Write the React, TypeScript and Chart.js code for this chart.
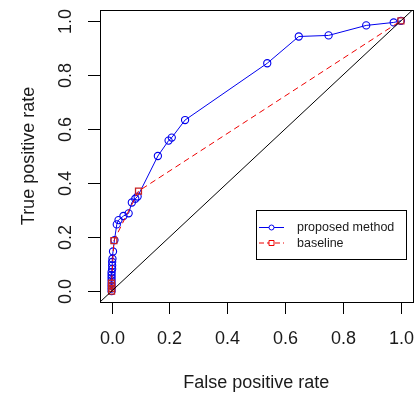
import React, { useEffect, useRef } from "react";
import { Chart, registerables } from "chart.js";

Chart.register(...registerables);

const proposedFPR = [0, 0, 0, 0, 0, 0, 0, 0, 0.002, 0.002, 0.002, 0.003, 0.005, 0.01, 0.018, 0.024, 0.041, 0.059, 0.07, 0.082, 0.09, 0.16, 0.197, 0.208, 0.254, 0.538, 0.647, 0.75, 0.88, 0.975, 1.0];
const proposedTPR = [0, 0.01, 0.02, 0.03, 0.04, 0.05, 0.06, 0.07, 0.082, 0.095, 0.108, 0.12, 0.147, 0.189, 0.247, 0.263, 0.278, 0.288, 0.328, 0.342, 0.35, 0.5, 0.557, 0.568, 0.633, 0.843, 0.942, 0.946, 0.983, 0.994, 1.0];
const baselineFPR = [0, 0, 0, 0, 0.008, 0.093, 1.0];
const baselineTPR = [0, 0.01, 0.02, 0.03, 0.187, 0.37, 1.0];
const diagonal = [-0.04, 1.04];
const tickValues = [0, 0.2, 0.4, 0.6, 0.8, 1.0];
const tickLabels = ["0.0", "0.2", "0.4", "0.6", "0.8", "1.0"];
const seriesNames = ["proposed method", "baseline"];
const xTitle = "False positive rate";
const yTitle = "True positive rate";

const FONT = '"Liberation Sans", Arial, Helvetica, sans-serif';
const BLUE = "#0000ee";
const RED = "#ee0000";

const rAxesPlugin = {
  id: "rAxes",
  afterDraw(chart: any) {
    const { ctx, chartArea } = chart;
    const xs = chart.scales.x;
    const ys = chart.scales.y;
    const { left, right, top, bottom } = chartArea;
    ctx.save();
    ctx.strokeStyle = "#000";
    ctx.lineWidth = 1;
    ctx.strokeRect(Math.round(left) + 0.5, Math.round(top) + 0.5, Math.round(right - left), Math.round(bottom - top));

    ctx.fillStyle = "#1a1a1a";
    ctx.font = `18px ${FONT}`;
    tickValues.forEach((v, i) => {
      const px = Math.round(xs.getPixelForValue(v)) + 0.5;
      ctx.beginPath();
      ctx.moveTo(px, Math.round(bottom) + 0.5);
      ctx.lineTo(px, Math.round(bottom) + 12);
      ctx.stroke();
      ctx.textAlign = "center";
      ctx.textBaseline = "middle";
      ctx.fillText(tickLabels[i], px, bottom + 37);
    });
    tickValues.forEach((v, i) => {
      const py = Math.round(ys.getPixelForValue(v)) + 0.5;
      ctx.beginPath();
      ctx.moveTo(Math.round(left) + 0.5, py);
      ctx.lineTo(Math.round(left) - 12, py);
      ctx.stroke();
      ctx.save();
      ctx.translate(left - 34, py);
      ctx.rotate(-Math.PI / 2);
      ctx.textAlign = "center";
      ctx.textBaseline = "middle";
      ctx.fillText(tickLabels[i], 0, 0);
      ctx.restore();
    });
    ctx.textAlign = "center";
    ctx.textBaseline = "middle";
    ctx.fillText(xTitle, (left + right) / 2, bottom + 81);
    ctx.save();
    ctx.translate(left - 71, (top + bottom) / 2);
    ctx.rotate(-Math.PI / 2);
    ctx.fillText(yTitle, 0, 0);
    ctx.restore();

    const lx = 256.5, ly = 210.5, lw = 150, lh = 49;
    ctx.fillStyle = "#fff";
    ctx.fillRect(lx, ly, lw, lh);
    ctx.strokeStyle = "#000";
    ctx.strokeRect(lx, ly, lw, lh);
    const rows = [
      { y: 227, color: BLUE, dash: [] as number[], shape: "circle" },
      { y: 242.5, color: RED, dash: [5, 3], shape: "rect" },
    ];
    rows.forEach((r, i) => {
      ctx.strokeStyle = r.color;
      ctx.lineWidth = 1;
      ctx.setLineDash(r.dash);
      ctx.beginPath();
      ctx.moveTo(259, r.y + 0.5);
      ctx.lineTo(284, r.y + 0.5);
      ctx.stroke();
      ctx.setLineDash([]);
      ctx.beginPath();
      if (r.shape === "circle") {
        ctx.arc(271.5, r.y + 0.5, 2.5, 0, Math.PI * 2);
      } else {
        ctx.rect(269, r.y - 2, 5, 5);
      }
      ctx.fillStyle = "#fff";
      ctx.fill();
      ctx.stroke();
      ctx.fillStyle = "#1a1a1a";
      ctx.font = `12.5px ${FONT}`;
      ctx.textAlign = "left";
      ctx.textBaseline = "middle";
      ctx.fillText(seriesNames[i], 297, r.y + 1);
    });
    ctx.restore();
  },
};

export default function App() {
  const ref = useRef<HTMLCanvasElement>(null);
  useEffect(() => {
    document.body.style.margin = "0";
    const chart = new Chart(ref.current!, {
      type: "scatter",
      data: {
        datasets: [
          {
            label: "diag",
            data: diagonal.map((v) => ({ x: v, y: v })),
            showLine: true,
            borderColor: "#000",
            borderWidth: 1,
            pointRadius: 0,
          },
          {
            label: seriesNames[1],
            data: baselineFPR.map((v, i) => ({ x: v, y: baselineTPR[i] })),
            showLine: true,
            borderColor: RED,
            borderWidth: 1,
            borderDash: [6, 4],
            pointStyle: "rect",
            pointRadius: 4.2,
            pointBorderWidth: 1.3,
            pointBorderColor: "#c82020",
            pointBackgroundColor: "rgba(0,0,0,0)",
          },
          {
            label: seriesNames[0],
            data: proposedFPR.map((v, i) => ({ x: v, y: proposedTPR[i] })),
            showLine: true,
            borderColor: BLUE,
            borderWidth: 1,
            pointStyle: "circle",
            pointRadius: 3.6,
            pointBorderWidth: 1.1,
            pointBorderColor: BLUE,
            pointBackgroundColor: "rgba(0,0,0,0)",
          },
        ],
      },
      options: {
        animation: false,
        responsive: false,
        layout: { padding: { left: 100, right: 5, top: 10, bottom: 94 } },
        plugins: { legend: { display: false }, tooltip: { enabled: false } },
        scales: {
          x: { type: "linear", min: -0.04, max: 1.04, display: false },
          y: { type: "linear", min: -0.04, max: 1.04, display: false },
        },
      },
      plugins: [rAxesPlugin],
    });
    return () => chart.destroy();
  }, []);
  return (
    <div style={{ width: 418, height: 396, background: "#fff" }}>
      <canvas ref={ref} width={418} height={396} />
    </div>
  );
}
